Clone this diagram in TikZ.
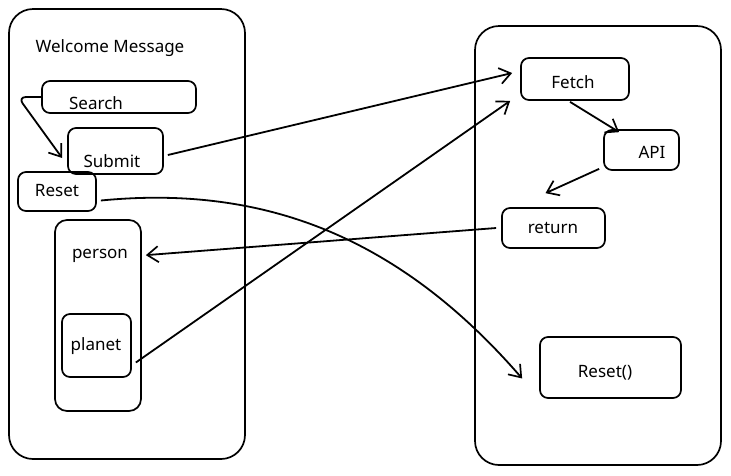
\documentclass[tikz,border=0pt]{standalone}
\usepackage{fontspec}
\setmainfont{Noto Sans}
\usetikzlibrary{arrows.meta,calc}
\begin{document}
\begin{tikzpicture}[x=1pt,y=-1pt,
  line width=1.7pt,
  panel/.style={draw, rounded corners=8pt, inner sep=0pt},
  lbl/.style={font=\fontsize{17}{20}\selectfont, inner sep=0pt},
  flow/.style={-{Straight Barb[length=11pt,width=16pt,line width=1.7pt]}, line width=1.8pt}
]
\useasboundingbox (0,0) rectangle (731,475);

% the two columns
\node[draw, rounded corners=24pt, minimum width=236pt, minimum height=450pt, inner sep=0pt] (ui) at (127,234) {};
\node[draw, rounded corners=24pt, minimum width=246pt, minimum height=439pt, inner sep=0pt] (logic) at (598,245.5) {};

% left column widgets
\node[lbl] (welcome) at (110,48) {Welcome Message};
\node[panel, minimum width=154pt, minimum height=32pt] (search) at (119,97) {};
\node[lbl] at (96,103) {Search};
\node[panel, minimum width=95pt, minimum height=46pt] (submit) at (115.5,151) {};
\node[lbl] at (112,161) {Submit};
\node[panel, minimum width=78pt, minimum height=39pt] (reset) at (57,191.5) {};
\node[lbl] at (57,191) {Reset};
\node[panel, rounded corners=12pt, minimum width=86pt, minimum height=191pt] (person) at (98,315.5) {};
\node[lbl] at (100,256) {person};
\node[panel, minimum width=69pt, minimum height=63pt] (planet) at (96.5,345.5) {};
\node[lbl] at (96,346) {planet};

% right column steps
\node[panel, minimum width=108pt, minimum height=42pt] (fetch) at (575,79) {};
\node[lbl] at (573,82) {Fetch};
\node[panel, minimum width=75pt, minimum height=40pt] (api) at (641.5,150) {};
\node[lbl] at (652,152) {API};
\node[panel, minimum width=103pt, minimum height=40pt] (ret) at (553.5,228) {};
\node[lbl] at (553,228) {return};
\node[panel, minimum width=141pt, minimum height=61pt] (resetfn) at (610.5,367.5) {};
\node[lbl] at (605,373) {Reset()};

% connectors
\draw[flow, rounded corners=8pt] (search.west) -- (18,97) -- ([xshift=-5pt,yshift=-7pt]submit.west);
\draw[flow] ([xshift=4pt,yshift=-4pt]submit.east) -- ([xshift=-8pt,yshift=6pt]fetch.west);
\draw[flow] ([xshift=4pt,yshift=-17pt]planet.east) -- ([xshift=-10pt]fetch.south west);
\draw[flow] ([xshift=-5pt]ret.west) -- ([xshift=4pt,yshift=-36pt]person.north east);
\draw[flow] ([xshift=-5pt,yshift=-1pt]fetch.south) -- ([xshift=16pt,yshift=-3pt]api.north west);
\draw[flow] ([xshift=-4pt,yshift=2pt]api.south west) -- ([xshift=-8pt,yshift=14pt]ret.north);
\draw[flow] ([xshift=4pt,yshift=-9pt]reset.east) .. controls (250,186) and (390,226) .. ([xshift=-17pt,yshift=-11pt]resetfn.west);
\end{tikzpicture}
\end{document}
